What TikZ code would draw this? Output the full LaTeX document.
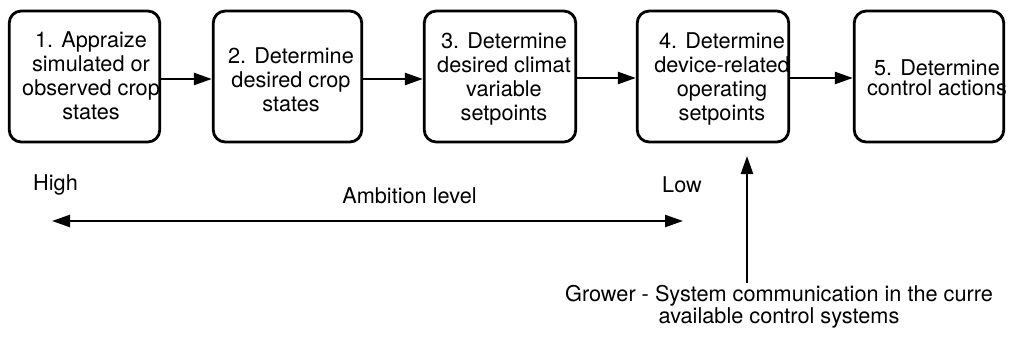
\documentclass[tikz,border=0pt]{standalone}
\usepackage{fontspec}
\setmainfont{TeX Gyre Heros}
\usetikzlibrary{arrows.meta}
\begin{document}
\begin{tikzpicture}[x=1pt,y=-1pt,
  stepbox/.style={draw, line width=2.8pt, rounded corners=12pt, minimum height=131pt, inner sep=0pt},
  boxtext/.style={align=center, inner sep=0pt, font=\fontsize{21.7}{24}\selectfont},
  lbl/.style={inner sep=0pt, font=\fontsize{21.7}{24}\selectfont},
  flow/.style={line width=2.4pt, -{Triangle[length=18pt,width=12pt]}},
  both/.style={line width=2.4pt, {Triangle[length=18pt,width=12pt]}-{Triangle[length=18pt,width=12pt]}},
]
\useasboundingbox (0,0) rectangle (1017,340);

% boxes
\node[stepbox, minimum width=150.5pt] (b1) at (84.5,76.5) {};
\node[stepbox, minimum width=148.5pt] (b2) at (287.5,76.5) {};
\node[stepbox, minimum width=151.5pt] (b3) at (500,76.5) {};
\node[stepbox, minimum width=151.5pt] (b4) at (713,76.5) {};
\node[stepbox, minimum width=149.5pt] (b5) at (929,76.5) {};

% texts, clipped to their boxes
\begin{scope}
\clip[rounded corners=12pt] (b1.south west) rectangle (b1.north east);
\node[boxtext] (t1) at (91,75.5) {1. Appraize\\simulated or\\observed crop\\states};
\end{scope}
\begin{scope}
\clip[rounded corners=12pt] (b2.south west) rectangle (b2.north east);
\node[boxtext] (t2) at (291,79.5) {2. Determine\\desired crop\\states};
\end{scope}
\begin{scope}
\clip[rounded corners=12pt] (b3.south west) rectangle (b3.north east);
\node[boxtext] (t3) at (504,79) {3. Determine\\desired climat\\variable\\setpoints};
\end{scope}
\begin{scope}
\clip[rounded corners=12pt] (b4.south west) rectangle (b4.north east);
\node[boxtext] (t4) at (722,79) {4. Determine\\device-related\\operating\\setpoints};
\end{scope}
\begin{scope}
\clip[rounded corners=12pt] (b5.south west) rectangle (b5.north east);
\node[boxtext, font=\fontsize{21.7}{20}\selectfont] (t5) at (937,78) {5. Determine\\control actions};
\end{scope}

% flow arrows
\draw[flow] ([yshift=-2.5pt]b1.east) -- ([yshift=-2.5pt]b2.west);
\draw[flow] ([yshift=-2.5pt]b2.east) -- ([yshift=-2.5pt]b3.west);
\draw[flow] ([yshift=-1.5pt]b3.east) -- ([yshift=-1.5pt]b4.west);
\draw[flow] ([yshift=-1.5pt]b4.east) -- ([yshift=-1.5pt]b5.west);

% ambition level
\node[lbl, anchor=base west] (high) at (33,190) {High};
\node[lbl, anchor=base] (amb) at (409.5,203) {Ambition level};
\node[lbl, anchor=base west] (low) at (662,192) {Low};
\coordinate (amL) at (52,221);
\coordinate (amR) at (683,221);
\draw[both] (amL) -- (amR);

% grower communication
\node[boxtext, font=\fontsize{21.7}{19.5}\selectfont] (grow) at (779,307) {Grower - System communication in the curre\\available control systems};
\coordinate (tip) at (747,156);
\draw[flow] ([yshift=3pt]tip |- grow.north) -- (tip);
\end{tikzpicture}
\end{document}
